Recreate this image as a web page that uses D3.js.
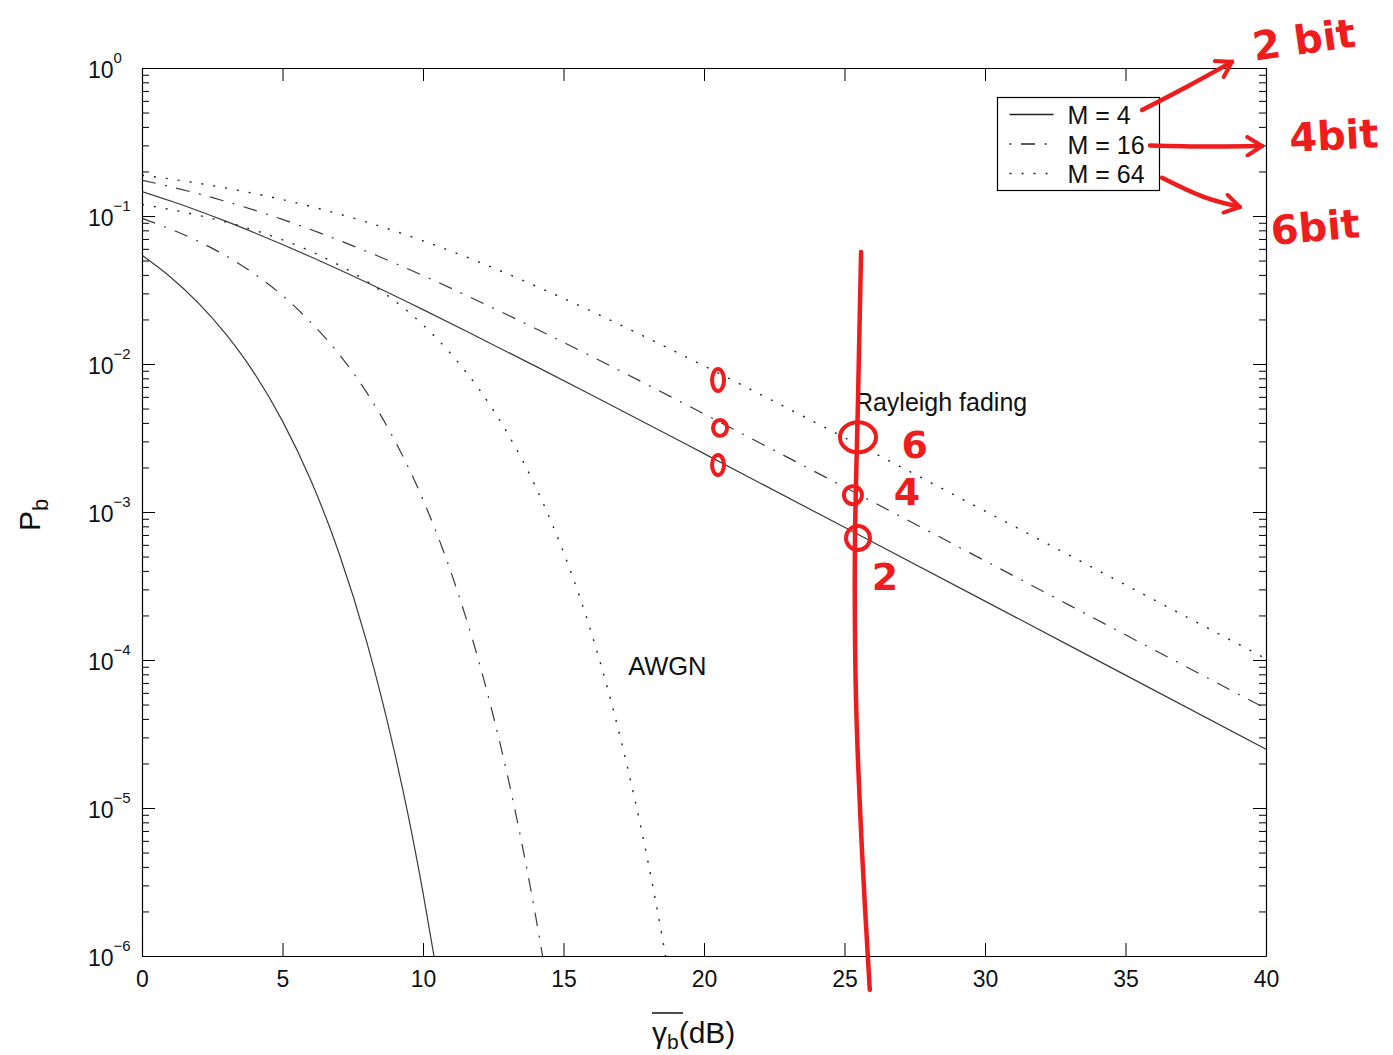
<!DOCTYPE html>
<html>
<head>
<meta charset="utf-8">
<script src="https://cdn.jsdelivr.net/npm/d3@7"></script>
<style>
  html, body { margin: 0; padding: 0; background: #fff; }
  svg { display: block; font-family: "Liberation Sans", Arial, Helvetica, sans-serif; }
</style>
</head>
<body>
<div id="chart"></div>
<script>
// values (Pb vs average SNR per bit, dB)
const snrRayleigh = [0, 1, 2, 3, 4, 5, 6, 8, 10, 12, 14, 16, 18, 20, 25, 30, 35, 40];
const rayleighM4  = [0.1464, 0.1267, 0.1085, 0.0919, 0.0771, 0.0642, 0.0530, 0.0355, 0.0233, 0.01505, 0.00967, 0.00617, 0.00392, 0.00248, 7.88e-4, 2.50e-4, 7.90e-5, 2.50e-5];
const rayleighM16 = [0.1746, 0.1580, 0.1414, 0.1252, 0.1095, 0.0948, 0.0811, 0.0576, 0.0396, 0.02647, 0.01737, 0.01125, 0.00722, 0.00460, 1.473e-3, 4.68e-4, 1.48e-4, 4.69e-5];
const rayleighM64 = [0.1886, 0.1778, 0.1664, 0.1543, 0.1418, 0.1290, 0.1161, 0.0909, 0.0680, 0.0488, 0.0337, 0.0227, 0.01496, 0.00970, 3.18e-3, 1.015e-3, 3.22e-4, 1.02e-4];

const snrAwgnM4  = [0, 1, 2, 3, 4, 5, 6, 7, 8, 9, 9.5, 10, 10.5];
const awgnM4     = [0.0543, 0.0389, 0.0259, 0.0158, 0.00865, 0.00411, 0.00165, 5.35e-4, 1.32e-4, 2.32e-5, 8.4e-6, 2.68e-6, 7.6e-7];
const snrAwgnM16 = [0, 1, 2, 3, 4, 5, 6, 7, 8, 9, 10, 11, 12, 12.5, 13, 13.5, 14, 14.4];
const awgnM16    = [0.0964, 0.0818, 0.0675, 0.0536, 0.0406, 0.0290, 0.0192, 0.01175, 0.00640, 0.00303, 0.00121, 3.90e-4, 9.6e-5, 4.2e-5, 1.68e-5, 6.0e-6, 1.9e-6, 6.9e-7];
const snrAwgnM64 = [0, 2, 4, 6, 8, 10, 11, 12, 13, 14, 15, 16, 17, 18, 18.5, 18.8];
const awgnM64    = [0.1197, 0.1011, 0.0801, 0.0578, 0.0362, 0.01837, 0.01167, 0.00673, 0.00342, 0.00149, 5.35e-4, 1.51e-4, 3.11e-5, 4.40e-6, 1.39e-6, 6.5e-7];

const xTicks = [0, 5, 10, 15, 20, 25, 30, 35, 40];
const yDecades = [1e-6, 1e-5, 1e-4, 1e-3, 1e-2, 1e-1, 1];
const legendLabels = ["M = 4", "M = 16", "M = 64"];

// hand-drawn red marks on the figure, placed in data coordinates
const redStroke = [[25.59, 0.0571], [25.48, 5.71e-3], [25.37, 5.53e-4], [25.41, 5.37e-5], [25.62, 5.25e-6], [25.9, 5.9e-7]];
const redRings = [[25.48, 3.2e-3, 18, 15], [25.3, 1.3e-3, 9, 9], [25.48, 6.67e-4, 12, 12],
                  [20.5, 7.8e-3, 6, 11], [20.57, 3.7e-3, 7, 8], [20.5, 2.08e-3, 6, 10]];
const redDigits = [["6", 27.5, 2.32e-3], ["4", 27.22, 1.11e-3], ["2", 26.44, 2.97e-4]];
const redArrows = [
  [[35.59, 0.52], [37.2, 0.75], [38.79, 1.1]],
  [[35.87, 0.30], [37.9, 0.295], [39.86, 0.297]],
  [[36.3, 0.181], [37.8, 0.134], [39.07, 0.115]]
];
const redNotes = [["2 bit", 39.6, 1.12, -8], ["4bit", 40.85, 0.271, -3], ["6bit", 40.21, 0.0637, -5]];

const W = 1393, H = 1055;
const margin = { top: 68, right: 127, bottom: 99, left: 142 };

const svg = d3.select("#chart").append("svg").attr("width", W).attr("height", H);
svg.append("rect").attr("width", W).attr("height", H).attr("fill", "#fff");

const x = d3.scaleLinear().domain([0, 40]).range([margin.left, W - margin.right]);
const y = d3.scaleLog().domain([1e-6, 1]).range([H - margin.bottom, margin.top]);

const minorTicks = yDecades.slice(0, -1).flatMap(d => d3.range(2, 10).map(k => d * k));

svg.append("clipPath").attr("id", "plotClip")
  .append("rect")
  .attr("x", x(0)).attr("y", y(1))
  .attr("width", x(40) - x(0)).attr("height", y(1e-6) - y(1));

// curves
const lineStyle = {
  solid: null,
  dashdot: "14,9.5,2,9.5",
  dotted: "2,10"
};
const curves = [
  { snr: snrRayleigh, pb: rayleighM4, style: "solid" },
  { snr: snrRayleigh, pb: rayleighM16, style: "dashdot" },
  { snr: snrRayleigh, pb: rayleighM64, style: "dotted" },
  { snr: snrAwgnM4, pb: awgnM4, style: "solid" },
  { snr: snrAwgnM16, pb: awgnM16, style: "dashdot" },
  { snr: snrAwgnM64, pb: awgnM64, style: "dotted" }
];

const line = d3.line()
  .x(d => x(d[0]))
  .y(d => y(d[1]))
  .curve(d3.curveMonotoneX);

svg.append("g").attr("clip-path", "url(#plotClip)")
  .selectAll("path")
  .data(curves)
  .join("path")
  .attr("d", c => line(c.snr.map((s, i) => [s, c.pb[i]])))
  .attr("fill", "none")
  .attr("stroke", c => c.style === "dotted" ? "#222" : "#3a3a3a")
  .attr("stroke-width", c => c.style === "dotted" ? 1.4 : 1.2)
  .attr("stroke-dasharray", c => lineStyle[c.style]);

// axes, MATLAB style: inward ticks on all four sides
function styleAxis(g) {
  g.attr("font-size", 23).attr("font-family", null);
  g.select(".domain").attr("stroke", "#000").attr("stroke-width", 1.2);
  g.selectAll(".tick line").attr("stroke", "#000").attr("stroke-width", 1);
  g.selectAll(".tick text").attr("fill", "#111");
}

svg.append("g")
  .attr("transform", `translate(0,${y(1e-6)})`)
  .call(d3.axisBottom(x).tickValues(xTicks).tickSizeInner(-13).tickSizeOuter(0).tickPadding(15).tickFormat(d3.format("d")))
  .call(styleAxis);

svg.append("g")
  .attr("transform", `translate(0,${y(1)})`)
  .call(d3.axisTop(x).tickValues(xTicks).tickSizeInner(-13).tickSizeOuter(0).tickFormat(""))
  .call(styleAxis);

svg.append("g")
  .attr("transform", `translate(${x(0)},0)`)
  .call(d3.axisLeft(y).tickValues(yDecades).tickSizeInner(-13).tickSizeOuter(0).tickFormat(""))
  .call(styleAxis);

svg.append("g")
  .attr("transform", `translate(${x(0)},0)`)
  .call(d3.axisLeft(y).tickValues(minorTicks).tickSizeInner(-7).tickSizeOuter(0).tickFormat(""))
  .call(styleAxis)
  .call(g => g.select(".domain").remove());

svg.append("g")
  .attr("transform", `translate(${x(40)},0)`)
  .call(d3.axisRight(y).tickValues(yDecades).tickSizeInner(-13).tickSizeOuter(0).tickFormat(""))
  .call(styleAxis);

svg.append("g")
  .attr("transform", `translate(${x(40)},0)`)
  .call(d3.axisRight(y).tickValues(minorTicks).tickSizeInner(-7).tickSizeOuter(0).tickFormat(""))
  .call(styleAxis)
  .call(g => g.select(".domain").remove());

// y tick labels 10^n
const yLabels = svg.append("g").attr("fill", "#111");
yDecades.forEach(d => {
  const e = Math.round(Math.log10(d));
  const t = yLabels.append("text")
    .attr("x", 88)
    .attr("y", y(d) + 10)
    .attr("font-size", 23);
  t.append("tspan").text("10");
  t.append("tspan").attr("dy", -15).attr("font-size", 15).text(e === 0 ? "0" : "\u2212" + (-e));
});

// axis titles
const xt = svg.append("text")
  .attr("x", 652).attr("y", 1043)
  .attr("fill", "#111")
  .attr("font-size", 30);
xt.append("tspan").text("\u03b3");
xt.append("tspan").attr("dy", 6).attr("font-size", 21).text("b");
xt.append("tspan").attr("dy", -6).text("(dB)");
svg.append("line")
  .attr("x1", 652).attr("x2", 683)
  .attr("y1", 1013).attr("y2", 1013)
  .attr("stroke", "#111").attr("stroke-width", 1.5);

const yt = svg.append("text")
  .attr("transform", "translate(40,531) rotate(-90)")
  .attr("fill", "#111")
  .attr("font-size", 30);
yt.append("tspan").text("P");
yt.append("tspan").attr("dy", 8).attr("font-size", 22).text("b");

// in-plot labels
svg.append("text")
  .attr("x", x(25.37)).attr("y", y(4.8e-3))
  .attr("font-size", 25).attr("fill", "#111")
  .text("Rayleigh fading");
svg.append("text")
  .attr("x", x(17.3)).attr("y", y(7.9e-5))
  .attr("font-size", 25.5).attr("fill", "#111")
  .text("AWGN");

// legend
const legend = svg.append("g").attr("transform", "translate(997.5,97.5)");
legend.append("rect")
  .attr("width", 162).attr("height", 93)
  .attr("fill", "#fff").attr("stroke", "#000").attr("stroke-width", 1.2);
const legendStyles = ["solid", "dashdot", "dotted"];
legendLabels.forEach((label, i) => {
  const row = legend.append("g").attr("transform", `translate(0,${17 + i * 29.5})`);
  row.append("line")
    .attr("x1", 12).attr("x2", 56)
    .attr("stroke", "#222").attr("stroke-width", 1.3)
    .attr("stroke-dasharray", lineStyle[legendStyles[i]])
    .attr("stroke-dashoffset", legendStyles[i] === "dashdot" ? 23.5 : 0);
  row.append("text")
    .attr("x", 70).attr("y", 9.5)
    .attr("font-size", 25).attr("fill", "#111")
    .text(label);
});

// red hand annotations
const red = "#ee1c1c";
const notes = svg.append("g").attr("fill", "none").attr("stroke", red)
  .attr("stroke-width", 4.5).attr("stroke-linecap", "round").attr("stroke-linejoin", "round");

const freeLine = d3.line().x(d => x(d[0])).y(d => y(d[1])).curve(d3.curveCatmullRom);

notes.append("path").attr("d", freeLine(redStroke));

notes.selectAll("ellipse")
  .data(redRings)
  .join("ellipse")
  .attr("cx", d => x(d[0])).attr("cy", d => y(d[1]))
  .attr("rx", d => d[2]).attr("ry", d => d[3])
  .attr("stroke-width", 4);

svg.append("defs").append("marker")
  .attr("id", "arrowHead")
  .attr("viewBox", "0 0 12 12")
  .attr("refX", 10).attr("refY", 6)
  .attr("markerWidth", 22).attr("markerHeight", 22)
  .attr("markerUnits", "userSpaceOnUse")
  .attr("orient", "auto")
  .append("path")
  .attr("d", "M2,1 L10,6 L2,11")
  .attr("fill", "none").attr("stroke", red)
  .attr("stroke-width", 2.2).attr("stroke-linecap", "round").attr("stroke-linejoin", "round");

notes.selectAll("path.arrow")
  .data(redArrows)
  .join("path")
  .attr("class", "arrow")
  .attr("d", d => freeLine(d))
  .attr("marker-end", "url(#arrowHead)");

svg.append("g")
  .selectAll("text")
  .data(redDigits)
  .join("text")
  .attr("x", d => x(d[1])).attr("y", d => y(d[2]))
  .attr("text-anchor", "middle")
  .attr("font-family", "DejaVu Sans")
  .attr("font-weight", "bold")
  .attr("font-size", 38)
  .attr("fill", red)
  .text(d => d[0]);

svg.append("g")
  .selectAll("text")
  .data(redNotes)
  .join("text")
  .attr("transform", d => `translate(${x(d[1])},${y(d[2])}) rotate(${d[3]})`)
  .attr("font-family", "DejaVu Sans")
  .attr("font-weight", "bold")
  .attr("font-size", 40)
  .attr("fill", red)
  .text(d => d[0]);
</script>
</body>
</html>
